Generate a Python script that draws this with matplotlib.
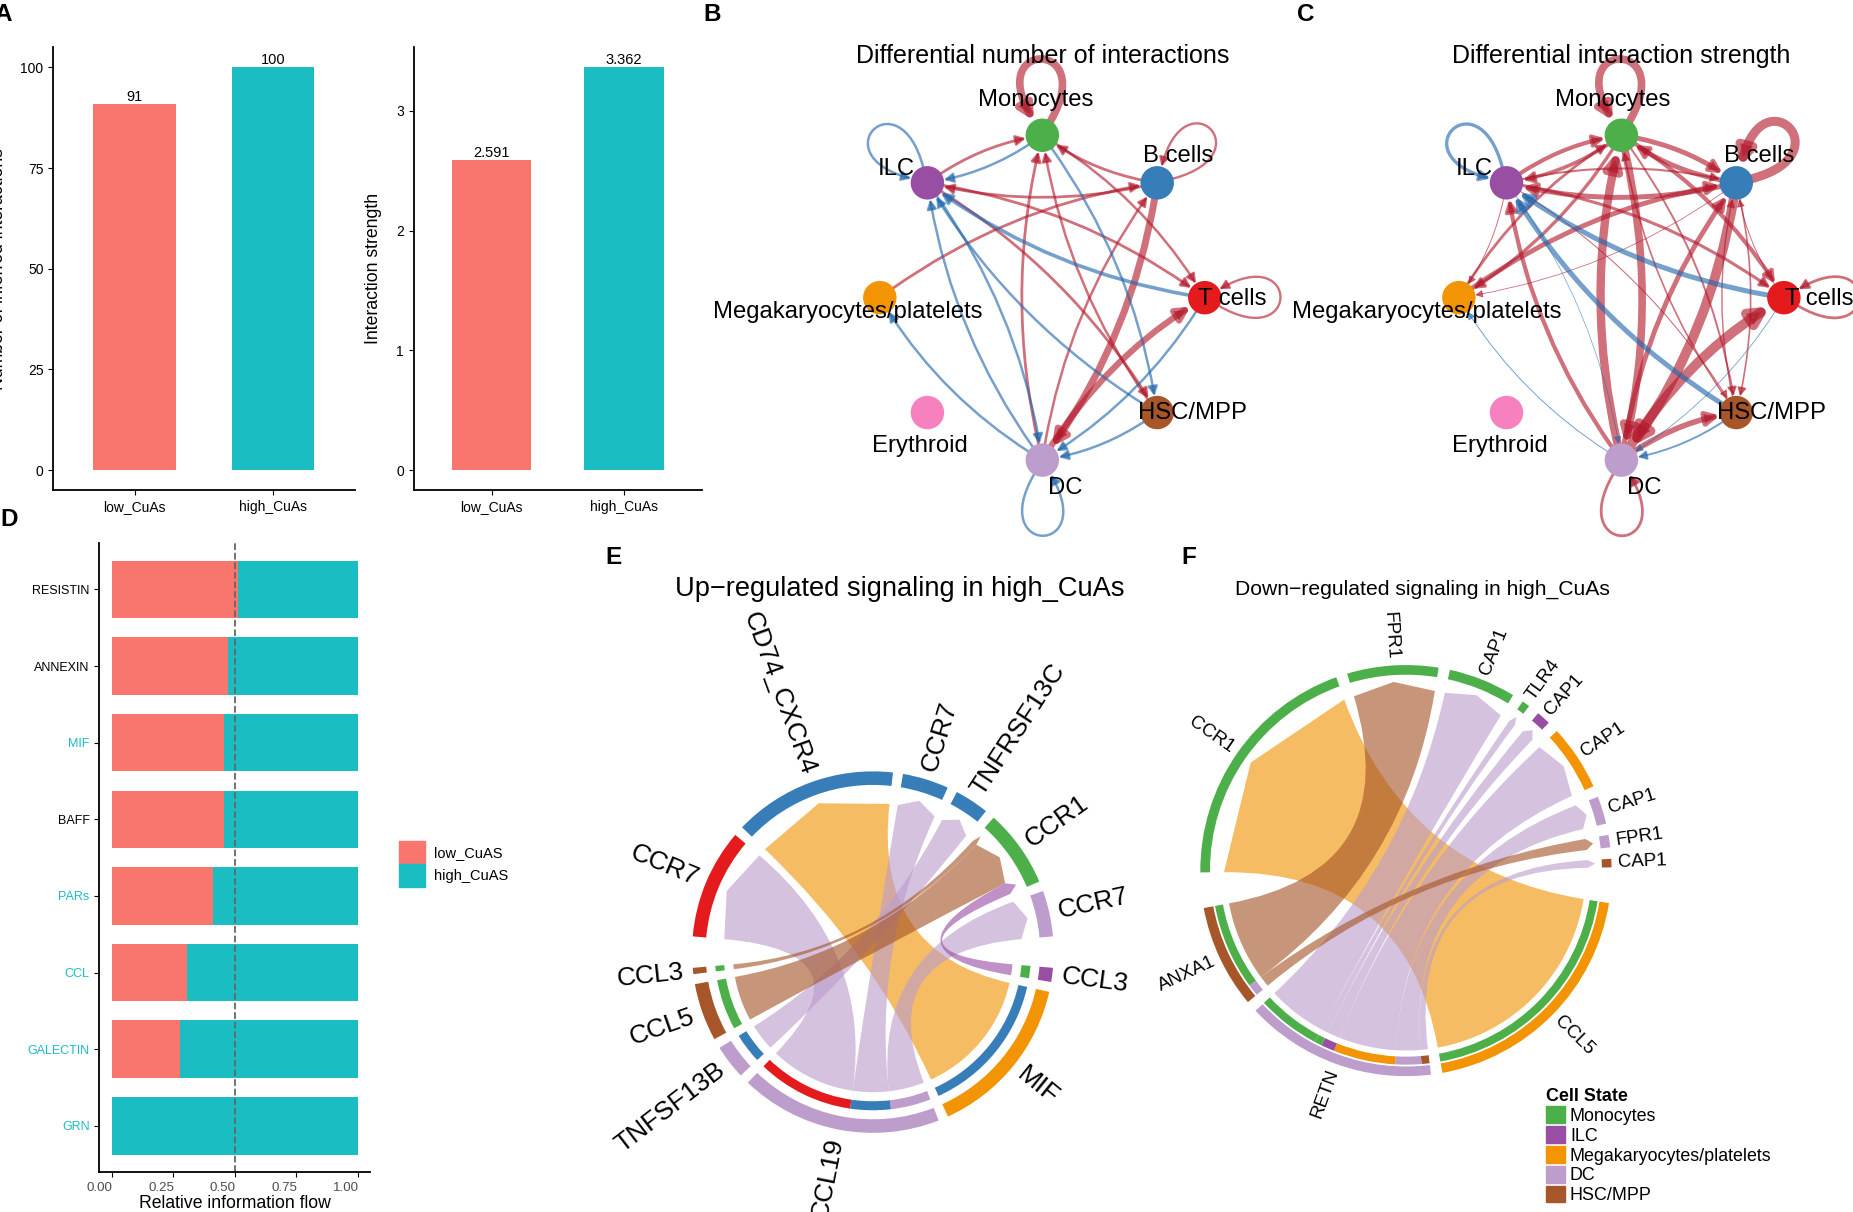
import numpy as np
import matplotlib
matplotlib.use('Agg')
import matplotlib.pyplot as plt
from matplotlib.patches import Circle, FancyArrowPatch, PathPatch, Patch, Wedge
from matplotlib.path import Path
from matplotlib.transforms import ScaledTranslation

plt.rcParams['font.family'] = ['Liberation Sans', 'DejaVu Sans']

W, H = 1568.0, 1026.0  # layout grid, same shape as the target picture
LOW = '#F8766D'
HIGH = '#1ABDC2'
RED = '#b2182b'
BLUE = '#2166ac'

cell_colors = {'Mono': '#4DAF4A', 'B': '#377EB8', 'T': '#E41A1C', 'HSC': '#A65628',
               'DC': '#BC9DCC', 'Ery': '#F781BF', 'Mega': '#F29403', 'ILC': '#984EA3'}

# A
groups = ['low_CuAs', 'high_CuAs']
n_interactions = [91, 100]
strength = [2.591, 3.362]

# D
pathways = ['RESISTIN', 'ANNEXIN', 'MIF', 'BAFF', 'PARs', 'CCL', 'GALECTIN', 'GRN']
low_share = [0.513, 0.473, 0.456, 0.459, 0.411, 0.306, 0.280, 0.0]
pathway_colors = ['black', 'black', HIGH, 'black', HIGH, HIGH, HIGH, HIGH]

# B, C
node_keys = ['Mono', 'B', 'T', 'HSC', 'DC', 'Ery', 'Mega', 'ILC']
node_names = ['Monocytes', 'B cells', 'T cells', 'HSC/MPP', 'DC', 'Erythroid',
              'Megakaryocytes/platelets', 'ILC']
label_shift_b = [(-6, -30), (18, -23), (23, 1), (30, 0), (19, 24), (-6, 28), (-27, 12), (-26, -12)]
label_shift_c = [(-7, -30), (19, -23), (30, 1), (30, 0), (19, 24), (-6, 28), (-27, 12), (-27, -12)]

b_red = [('Mono', 'Mono', 5.5), ('B', 'B', 1.7), ('T', 'T', 1.7),
         ('ILC', 'Mono', 2.0), ('B', 'Mono', 2.0), ('Mono', 'T', 1.8),
         ('B', 'ILC', 2.0), ('Mega', 'B', 2.0), ('ILC', 'T', 2.0), ('ILC', 'HSC', 2.0),
         ('DC', 'Mono', 2.0), ('HSC', 'Mono', 1.8), ('B', 'DC', 5.0), ('DC', 'B', 1.8),
         ('DC', 'T', 4.5)]
b_blue = [('ILC', 'ILC', 1.8), ('DC', 'DC', 1.8), ('Mono', 'ILC', 1.8), ('T', 'ILC', 2.6),
          ('HSC', 'ILC', 1.8), ('DC', 'ILC', 1.8), ('ILC', 'DC', 1.8), ('DC', 'Mega', 1.8),
          ('Mono', 'HSC', 1.8), ('HSC', 'DC', 1.8), ('T', 'DC', 1.8)]

c_red = [('Mono', 'Mono', 5.5), ('B', 'B', 6.5), ('T', 'T', 2.0), ('DC', 'DC', 2.0),
         ('ILC', 'Mono', 3.0), ('Mono', 'ILC', 2.6), ('B', 'Mono', 3.5), ('Mono', 'B', 3.5),
         ('Mega', 'Mono', 2.0), ('Mono', 'Mega', 2.4), ('ILC', 'Mega', 0.7),
         ('Mega', 'B', 3.5), ('B', 'Mega', 0.6), ('B', 'ILC', 3.6), ('ILC', 'B', 1.5),
         ('ILC', 'T', 2.2), ('ILC', 'HSC', 0.8), ('DC', 'ILC', 3.0),
         ('Mono', 'T', 3.0), ('Mono', 'HSC', 1.4), ('HSC', 'Mono', 1.2),
         ('DC', 'Mono', 6.0), ('Mono', 'DC', 5.5), ('T', 'B', 0.7),
         ('B', 'HSC', 1.2), ('HSC', 'B', 1.0), ('B', 'DC', 7.0), ('DC', 'B', 3.5),
         ('DC', 'T', 7.0), ('DC', 'HSC', 4.0)]
c_blue = [('ILC', 'ILC', 2.4), ('T', 'ILC', 3.6), ('HSC', 'ILC', 3.6), ('ILC', 'DC', 0.5),
          ('DC', 'Mega', 0.7), ('T', 'DC', 0.6), ('HSC', 'DC', 1.4)]

# E, F sectors in clockwise order, the chord width of a sector is the sum of its links
e_sectors = ['CCR7_l', 'CD74_CXCR4', 'CCR7_t', 'TNFRSF13C', 'CCR1', 'CCR7_r',
             'CCL3_r', 'MIF', 'CCL19', 'TNFSF13B', 'CCL5', 'CCL3_l']
e_sector_labels = ['CCR7', 'CD74_CXCR4', 'CCR7', 'TNFRSF13C', 'CCR1', 'CCR7',
                   'CCL3', 'MIF', 'CCL19', 'TNFSF13B', 'CCL5', 'CCL3']
e_sector_cells = ['T', 'B', 'B', 'B', 'Mono', 'DC', 'ILC', 'Mega', 'DC', 'DC', 'HSC', 'HSC']
e_links = [('MIF', 'CD74_CXCR4', 52.5), ('CCL19', 'CCR7_r', 14.7), ('CCL19', 'CCR7_t', 14.8),
           ('CCL19', 'CCR7_l', 35.3), ('TNFSF13B', 'TNFRSF13C', 11.0),
           ('CCL3_l', 'CCR1', 2.0), ('CCL5', 'CCR1', 18.5), ('CCL3_r', 'CCR1', 4.5)]

f_sectors = ['CCR1', 'FPR1_m', 'CAP1_m', 'TLR4', 'CAP1_i', 'CAP1_k', 'CAP1_d', 'FPR1_d', 'CAP1_h',
             'CCL5', 'RETN', 'ANXA1']
f_sector_labels = ['CCR1', 'FPR1', 'CAP1', 'TLR4', 'CAP1', 'CAP1', 'CAP1', 'FPR1', 'CAP1',
                   'CCL5', 'RETN', 'ANXA1']
f_sector_cells = ['Mono', 'Mono', 'Mono', 'Mono', 'ILC', 'Mega', 'DC', 'DC', 'HSC', 'Mega', 'DC', 'HSC']
f_links = [('CCL5', 'CCR1', 70.5), ('RETN', 'CAP1_h', 2.4), ('RETN', 'CAP1_d', 7.8),
           ('RETN', 'CAP1_k', 18.5), ('RETN', 'CAP1_i', 4.0), ('RETN', 'TLR4', 2.2),
           ('RETN', 'CAP1_m', 19.0), ('ANXA1', 'FPR1_d', 3.5), ('ANXA1', 'FPR1_m', 25.7)]
legend_keys = ['Mono', 'ILC', 'Mega', 'DC', 'HSC']
legend_names = ['Monocytes', 'ILC', 'Megakaryocytes/platelets', 'DC', 'HSC/MPP']


def add_ax(x0, y0, x1, y1):
    return fig.add_axes([x0 / W, 1 - y1 / H, (x1 - x0) / W, (y1 - y0) / H])


def classic(ax):
    ax.spines['top'].set_visible(False)
    ax.spines['right'].set_visible(False)
    ax.spines['left'].set_linewidth(1.3)
    ax.spines['bottom'].set_linewidth(1.3)


def bar_panel(ax, values, ylabel, yticks, ylim, fmt):
    classic(ax)
    ax.bar(range(2), values, width=0.6, color=[LOW, HIGH])
    for i, v in enumerate(values):
        ax.text(i, v, fmt % v, ha='center', va='bottom', fontsize=10.5)
    ax.set_xlim(-0.59, 1.59)
    ax.set_ylim(*ylim)
    ax.set_xticks(range(2), groups, fontsize=10)
    ax.set_yticks(yticks)
    ax.tick_params(axis='y', labelsize=10)
    ax.set_ylabel(ylabel, fontsize=12.7)


def draw_network(ax, red, blue, shifts, title):
    ax.set_xlim(-1.6, 1.6)
    ax.set_ylim(-1.6, 1.6)
    ax.axis('off')
    angles = np.deg2rad([90, 45, 0, -45, -90, -135, 180, 135])
    pos = {k: np.array([np.cos(a), np.sin(a)]) for k, a in zip(node_keys, angles)}
    rn = 0.103
    for edges, col in ((red, RED), (blue, BLUE)):
        for src, tgt, w in edges:
            head = 'Simple' if False else '-|>,head_length=0.5,head_width=0.26'
            scale = 8 + 1.6 * w
            if src == tgt:
                u = np.arctan2(*pos[src][::-1])
                a = np.deg2rad(30)
                pts = [pos[src] + rn * np.array([np.cos(u - a), np.sin(u - a)]),
                       pos[src] + 0.68 * np.array([np.cos(u - a), np.sin(u - a)]),
                       pos[src] + 0.68 * np.array([np.cos(u + a), np.sin(u + a)]),
                       pos[src] + rn * np.array([np.cos(u + a), np.sin(u + a)])]
                loop = Path(pts, [Path.MOVETO, Path.CURVE4, Path.CURVE4, Path.CURVE4])
                arrow = FancyArrowPatch(path=loop, arrowstyle=head, mutation_scale=scale,
                                        color=col, alpha=0.62, lw=w, zorder=2)
            else:
                arrow = FancyArrowPatch(pos[src], pos[tgt], arrowstyle=head, mutation_scale=scale,
                                        connectionstyle='arc3,rad=-0.125', shrinkA=11, shrinkB=12,
                                        color=col, alpha=0.62, lw=w, zorder=2)
            ax.add_patch(arrow)
    for k, name, (dx, dy) in zip(node_keys, node_names, shifts):
        ax.add_patch(Circle(pos[k], rn, color=cell_colors[k], lw=0, zorder=3))
        ax.annotate(name, pos[k], xytext=(dx * 1.1818 * 0.72, -dy * 1.1818 * 0.72),
                    textcoords='offset points', ha='center', va='center',
                    fontsize=17.2, zorder=4)
    ax.text(0, 1.49, title, ha='center', va='center', fontsize=18)


def polar(ang, r):
    t = np.deg2rad(ang)
    return (r * np.cos(t), r * np.sin(t))


def draw_chord(ax, sectors, labels, cells, links, radii, start, gap, big_gap, big_after, fs):
    outer_in, inner_out, inner_in, base, edge, tip, lab_r = radii
    ax.set_xlim(-1.45, 1.45)
    ax.set_ylim(-1.45, 1.45)
    ax.axis('off')
    totals = {s: 0.0 for s in sectors}
    for src, tgt, v in links:
        totals[src] += v
        totals[tgt] += v
    free = 360 - gap * (len(sectors) - 2) - 2 * big_gap
    per = free / sum(totals.values())
    hi = {}
    lo = {}
    ang = start
    for i, s in enumerate(sectors):
        hi[s] = ang
        lo[s] = ang - totals[s] * per
        ang = lo[s] - (big_gap if s == big_after else gap)
    used = dict(hi)
    ligands = {src for src, _, _ in links}
    for s, text, cell in zip(sectors, labels, cells):
        ax.add_patch(Wedge((0, 0), 1.0, lo[s], hi[s], width=1.0 - outer_in,
                           color=cell_colors[cell], lw=0, zorder=3))
        mid = 0.5 * (lo[s] + hi[s])
        right = np.cos(np.deg2rad(mid)) >= 0
        ax.text(*polar(mid, lab_r), text, rotation=mid if right else mid + 180,
                rotation_mode='anchor', ha='left' if right else 'right', va='center', fontsize=fs)
    cell_of = dict(zip(sectors, cells))
    for src, tgt, v in links:
        s_hi = used[src]
        s_lo = s_hi - v * per
        used[src] = s_lo
        t_hi = used[tgt]
        t_lo = t_hi - v * per
        used[tgt] = t_lo
        ax.add_patch(Wedge((0, 0), inner_out, s_lo, s_hi, width=inner_out - inner_in,
                           color=cell_colors[cell_of[tgt]], lw=0, zorder=3))
        arc = [polar(a, base) for a in np.linspace(s_hi, s_lo, 30)]
        verts = arc + [(0, 0), polar(t_hi, edge), polar(0.5 * (t_hi + t_lo), tip),
                       polar(t_lo, edge), (0, 0), arc[0], arc[0]]
        codes = [Path.MOVETO] + [Path.LINETO] * 29 + [Path.CURVE3, Path.CURVE3, Path.LINETO,
                                                      Path.LINETO, Path.CURVE3, Path.CURVE3,
                                                      Path.CLOSEPOLY]
        ax.add_patch(PathPatch(Path(verts, codes), facecolor=cell_colors[cell_of[src]],
                               edgecolor='none', alpha=0.62, zorder=2))


fig = plt.figure(figsize=(18.53, 12.12), dpi=100)

# A
ax1 = add_ax(45, 40, 300, 415)
bar_panel(ax1, n_interactions, 'Number of inferred interactions', [0, 25, 50, 75, 100], (-5, 105), '%d')
ax1.yaxis.set_label_coords(-0.153, 0.5)
ax2 = add_ax(350, 40, 594, 415)
bar_panel(ax2, strength, 'Interaction strength', [0, 1, 2, 3], (-0.168, 3.53), '%.3f')
ax2.yaxis.set_label_coords(-0.11, 0.5)

# B, C
R = 137.5
ax3 = add_ax(882 - 1.6 * R, 252 - 1.6 * R, 882 + 1.6 * R, 252 + 1.6 * R)
draw_network(ax3, b_red, b_blue, label_shift_b, 'Differential number of interactions')
ax4 = add_ax(1372 - 1.6 * R, 252 - 1.6 * R, 1372 + 1.6 * R, 252 + 1.6 * R)
draw_network(ax4, c_red, c_blue, label_shift_c, 'Differential interaction strength')

# D
ax5 = add_ax(84, 460, 313, 992)
classic(ax5)
ypos = np.arange(len(pathways))[::-1]
ax5.barh(ypos, low_share, height=0.75, color=LOW)
ax5.barh(ypos, 1 - np.array(low_share), left=low_share, height=0.75, color=HIGH)
ax5.axvline(0.5, color='#666666', ls='--', lw=1.3)
ax5.set_xlim(-0.05, 1.05)
ax5.set_ylim(-0.6, 7.6)
ax5.set_yticks(ypos, pathways, fontsize=9)
for lab, col in zip(ax5.get_yticklabels(), pathway_colors):
    lab.set_color(col)
ax5.set_xticks([0, 0.25, 0.5, 0.75, 1.0], ['0.00', '0.25', '0.50', '0.75', '1.00'], fontsize=9.6, color='#4d4d4d')
for lab in ax5.get_xticklabels():
    lab.set_transform(lab.get_transform() + ScaledTranslation(-0.118, 0, fig.dpi_scale_trans))
ax5.set_xlabel('Relative information flow', fontsize=12.7, labelpad=1)
fig.legend([Patch(color=LOW), Patch(color=HIGH)], ['low_CuAS', 'high_CuAS'], loc='upper left',
           bbox_to_anchor=(338 / W, 1 - 712 / H), frameon=False, borderpad=0, borderaxespad=0,
           fontsize=10.5, handlelength=1.78, handleheight=2.0, handletextpad=0.6, labelspacing=0.05)

# E, F
Re = 153.0
ax6 = add_ax(738.6 - 1.45 * Re, 806 - 1.45 * Re, 738.6 + 1.45 * Re, 806 + 1.45 * Re)
draw_chord(ax6, e_sectors, e_sector_labels, e_sector_cells, e_links,
           (0.925, 0.875, 0.825, 0.775, 0.825, 0.876, 1.05), 175, 3.2, 10, 'CCR7_r', 19)
Rf = 174.0
ax7 = add_ax(1189.7 - 1.45 * Rf, 737 - 1.45 * Rf, 1189.7 + 1.45 * Rf, 737 + 1.45 * Rf)
draw_chord(ax7, f_sectors, f_sector_labels, f_sector_cells, f_links,
           (0.953, 0.944, 0.905, 0.875, 0.885, 0.92, 1.03), 180.5, 3.2, 10, 'CAP1_h', 13.5)
fig.text(761 / W, 1 - 499 / H, 'Up\u2212regulated signaling in high_CuAs', ha='center', va='center', fontsize=19.6)
fig.text(1204 / W, 1 - 499 / H, 'Down\u2212regulated signaling in high_CuAs', ha='center', va='center', fontsize=15.2)

fig.legend([Patch(color=cell_colors[k]) for k in legend_keys], legend_names, loc='upper left',
           bbox_to_anchor=(1308 / W, 1 - 921 / H), frameon=False, borderpad=0, borderaxespad=0,
           fontsize=12.9, title='Cell State', title_fontproperties={'weight': 'bold', 'size': 12.9},
           alignment='left', handlelength=1.05, handleheight=1.05, handletextpad=0.3, labelspacing=0.08)

for letter, x, y in [('A', 3, 12), ('B', 603, 12), ('C', 1105, 12), ('D', 8, 440), ('E', 519, 472), ('F', 1006, 472)]:
    fig.text(x / W, 1 - y / H, letter, fontsize=17.5, fontweight='bold', ha='center', va='center')

fig.savefig('out.png', dpi=100)
